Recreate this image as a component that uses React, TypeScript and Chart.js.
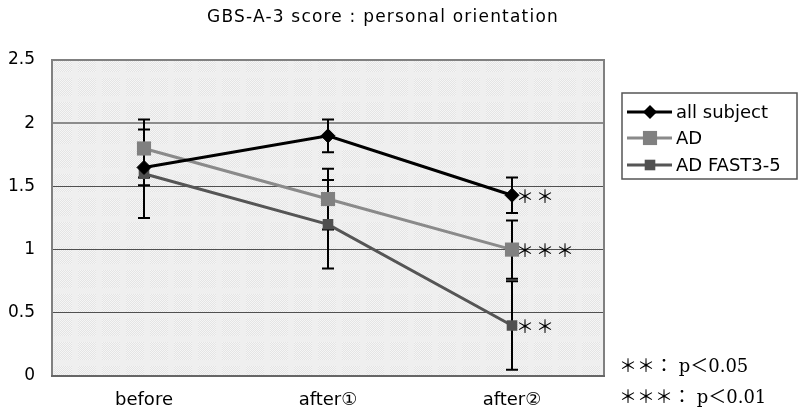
import React, { useEffect, useRef } from "react";
import { Chart, registerables } from "chart.js";

Chart.register(...registerables);

const categories = ["before", "after①", "after②"];
const seriesNames = ["all subject", "AD", "AD FAST3-5"];
const allSubject = [1.65, 1.9, 1.43];
const adValues = [1.8, 1.4, 1.0];
const fastValues = [1.6, 1.2, 0.4];
const allSubjectErr = [0.14, 0.13, 0.14];
const adErr = [0.23, 0.24, 0.23];
const fastErr = [0.35, 0.35, 0.35];
const allSubjectSig = ["", "", "＊＊"];
const adSig = ["", "", "＊＊＊"];
const fastSig = ["", "", "＊＊"];
const yTicks = [0, 0.5, 1, 1.5, 2, 2.5];
const titleText = "GBS-A-3 score : personal orientation";
const footnotes = ["＊＊： p＜0.05", "＊＊＊： p＜0.01"];

const SANS = '"DejaVu Sans", "Noto Sans CJK JP", sans-serif';
const SERIF = '"DejaVu Serif", "Liberation Serif", "Noto Sans CJK JP", serif';

function makePattern(ctx: CanvasRenderingContext2D) {
  const c = document.createElement("canvas");
  c.width = 24;
  c.height = 24;
  const p = c.getContext("2d")!;
  for (let y = 0; y < 24; y++) {
    for (let x = 0; x < 24; x++) {
      const band = x % 24 < 6 || y % 24 < 6;
      p.fillStyle = band ? "#efefef" : (x + y) % 2 ? "#e4e4e4" : "#f5f5f5";
      p.fillRect(x, y, 1, 1);
    }
  }
  return ctx.createPattern(c, "repeat");
}

export default function App() {
  const ref = useRef<HTMLCanvasElement>(null);
  useEffect(() => {
    document.body.style.margin = "0";
    const canvas = ref.current!;
    const errs = [allSubjectErr, adErr, fastErr];
    const sigs = [allSubjectSig, adSig, fastSig];

    const customPlugin = {
      id: "custom",
      beforeDraw(chart: any) {
        const { ctx, chartArea: a } = chart;
        ctx.save();
        ctx.fillStyle = "#fff";
        ctx.fillRect(0, 0, chart.width, chart.height);
        ctx.fillStyle = makePattern(ctx) || "#eee";
        ctx.fillRect(a.left, a.top, a.right - a.left, a.bottom - a.top);
        ctx.restore();
      },
      beforeDatasetsDraw(chart: any) {
        const { ctx, chartArea: a, scales } = chart;
        ctx.save();
        ctx.strokeStyle = "#808080";
        ctx.lineWidth = 2;
        ctx.strokeRect(a.left, a.top, a.right - a.left, a.bottom - a.top);
        ctx.strokeStyle = "#666";
        ctx.lineWidth = 2;
        ctx.beginPath();
        ctx.moveTo(a.left - 1, a.bottom);
        ctx.lineTo(a.right + 1, a.bottom);
        ctx.stroke();
        ctx.strokeStyle = "#000";
        ctx.lineWidth = 2;
        chart.data.datasets.forEach((ds: any, di: number) => {
          ds.data.forEach((v: number, i: number) => {
            const x = scales.x.getPixelForValue(i);
            const y1 = scales.y.getPixelForValue(v + errs[di][i]);
            const y2 = scales.y.getPixelForValue(v - errs[di][i]);
            ctx.beginPath();
            ctx.moveTo(x, y1);
            ctx.lineTo(x, y2);
            ctx.moveTo(x - 6, y1);
            ctx.lineTo(x + 6, y1);
            ctx.moveTo(x - 6, y2);
            ctx.lineTo(x + 6, y2);
            ctx.stroke();
          });
        });
        ctx.restore();
      },
      afterDatasetsDraw(chart: any) {
        const { ctx, scales } = chart;
        ctx.save();
        ctx.fillStyle = "#000";
        ctx.font = '18px "Noto Sans CJK JP", sans-serif';
        ctx.textBaseline = "middle";
        ctx.textAlign = "left";
        (ctx as any).letterSpacing = "2px";
        chart.data.datasets.forEach((ds: any, di: number) => {
          ds.data.forEach((v: number, i: number) => {
            const s = sigs[di][i];
            if (!s) return;
            const x = scales.x.getPixelForValue(i);
            const y = scales.y.getPixelForValue(v);
            ctx.fillText(s, x + 4, y + 1);
          });
        });
        (ctx as any).letterSpacing = "1.2px";
        ctx.font = "17px " + SANS;
        ctx.textAlign = "center";
        ctx.fillText(titleText, 383, 18);
        (ctx as any).letterSpacing = "0px";
        const lx = 622, ly = 93, lw = 175, lh = 86;
        ctx.strokeStyle = "#555";
        ctx.lineWidth = 1.5;
        ctx.strokeRect(lx, ly, lw, lh);
        const rows = [112, 138, 165];
        chart.data.datasets.forEach((ds: any, di: number) => {
          const y = rows[di];
          ctx.strokeStyle = ds.borderColor;
          ctx.lineWidth = ds.borderWidth;
          ctx.beginPath();
          ctx.moveTo(627, y);
          ctx.lineTo(672, y);
          ctx.stroke();
          ctx.fillStyle = ds.pointBackgroundColor;
          const r = ds.pointRadius;
          ctx.beginPath();
          if (ds.pointStyle === "rectRot") {
            ctx.moveTo(650 - r, y);
            ctx.lineTo(650, y - r);
            ctx.lineTo(650 + r, y);
            ctx.lineTo(650, y + r);
            ctx.closePath();
          } else {
            const s = Math.SQRT1_2 * r;
            ctx.rect(650 - s, y - s, 2 * s, 2 * s);
          }
          ctx.fill();
          ctx.fillStyle = "#000";
          ctx.font = "18px " + SANS;
          ctx.textAlign = "left";
          ctx.textBaseline = "middle";
          ctx.fillText(ds.label, 676, y + 1);
        });
        ctx.font = "18px " + SERIF;
        ctx.fillStyle = "#000";
        ctx.textAlign = "left";
        ctx.fillText(footnotes[0], 619, 367);
        ctx.fillText(footnotes[1], 619, 398);
        ctx.restore();
      },
    };

    const chart = new Chart(canvas, {
      type: "line",
      data: {
        labels: categories,
        datasets: [
          {
            label: seriesNames[0],
            data: allSubject,
            borderColor: "#000",
            backgroundColor: "#000",
            pointBackgroundColor: "#000",
            pointBorderColor: "#000",
            pointBorderWidth: 1,
            borderWidth: 3,
            pointStyle: "rectRot",
            pointRadius: 7,
          },
          {
            label: seriesNames[1],
            data: adValues,
            borderColor: "#8a8a8a",
            backgroundColor: "#808080",
            pointBackgroundColor: "#808080",
            pointBorderColor: "#808080",
            pointBorderWidth: 0,
            borderWidth: 3,
            pointStyle: "rect",
            pointRadius: 10,
          },
          {
            label: seriesNames[2],
            data: fastValues,
            borderColor: "#555",
            backgroundColor: "#505050",
            pointBackgroundColor: "#505050",
            pointBorderColor: "#505050",
            pointBorderWidth: 0,
            borderWidth: 3,
            pointStyle: "rect",
            pointRadius: 7.5,
          },
        ] as any,
      },
      options: {
        responsive: false,
        animation: false,
        devicePixelRatio: 1,
        layout: { padding: { top: 60, right: 195, bottom: 0, left: 0 } },
        plugins: {
          legend: { display: false },
          title: { display: false },
          tooltip: { enabled: false },
        },
        scales: {
          x: {
            offset: true,
            grid: { display: false, drawTicks: false },
            border: { display: false },
            ticks: { color: "#000", font: { family: SANS, size: 18 }, padding: 14 },
            afterFit: (s: any) => {
              s.height = 36;
            },
          },
          y: {
            min: 0,
            max: 2.5,
            afterBuildTicks: (s: any) => {
              s.ticks = yTicks.map((v) => ({ value: v }));
            },
            grid: {
              drawTicks: false,
              color: (c: any) => (c.tick && c.tick.value === 2 ? "#8c8c8c" : "#505050"),
              lineWidth: (c: any) => (c.tick && c.tick.value === 2 ? 2 : 1),
            },
            border: { display: false },
            ticks: {
              color: "#000",
              font: { family: SANS, size: 17 },
              padding: 17,
              callback: (v: any) => String(Number(v)),
            },
            afterFit: (s: any) => {
              s.width = 52;
            },
          },
        },
      },
      plugins: [customPlugin],
    } as any);
    return () => chart.destroy();
  }, []);
  return (
    <div style={{ position: "fixed", left: 0, top: 0, width: 799, height: 412 }}>
      <canvas ref={ref} width={799} height={412} />
    </div>
  );
}
